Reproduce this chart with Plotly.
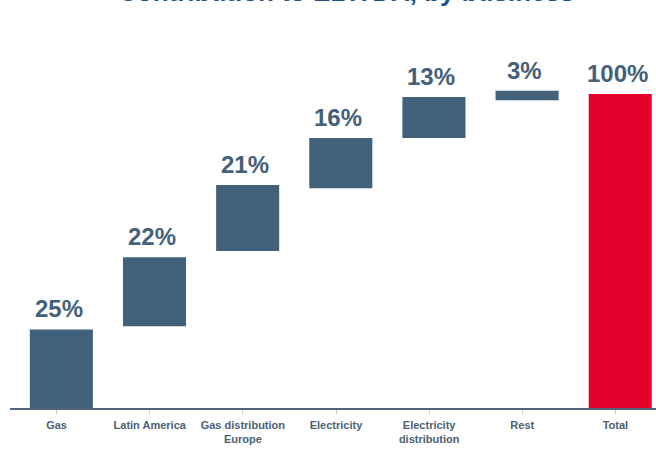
import plotly.graph_objects as go

categories = ["Gas", "Latin America", "Gas distribution<br>Europe", "Electricity",
              "Electricity<br>distribution<br>Europe", "Rest", "Total"]
values = [25, 22, 21, 16, 13, 3, 100]          # contribution (%)
bases = [0, 26, 50, 70, 86, 98, 0]             # bar start as drawn (%)
labels = [f"{v}%" for v in values]

SLATE = "#42617a"
RED = "#e4002b"
TEXT = "#44607a"
colors = [SLATE] * 6 + [RED]

x_idx = list(range(len(categories)))

fig = go.Figure()
fig.add_trace(go.Bar(
    x=x_idx, y=values, base=bases,
    marker=dict(color=colors, line=dict(width=0)),
    width=0.677, offset=-0.287,
    hoverinfo="skip",
))

for xi, b, v, t in zip(x_idx, bases, values, labels):
    fig.add_annotation(
        x=xi, y=b + v, text=t, showarrow=False,
        xanchor="center", yanchor="bottom", xshift=2, yshift=5,
        font=dict(family="Liberation Sans, Arial", size=24, color=TEXT, weight="bold"),
    )

fig.add_annotation(
    xref="paper", yref="paper", x=0.52, y=1, yshift=51, xanchor="center", yanchor="bottom",
    text="Contribution to EBITDA, by business", showarrow=False,
    font=dict(family="Liberation Sans, Arial", size=26, color="#1b5386", weight="bold"),
)

fig.update_layout(
    width=656, height=450,
    margin=dict(l=10, r=0, t=60, b=42, autoexpand=False),
    paper_bgcolor="white", plot_bgcolor="white",
    showlegend=False,
    xaxis=dict(
        tickmode="array", tickvals=x_idx, ticktext=categories,
        range=[-0.5, 6.4356], automargin=False,
        showline=True, linecolor="#4d6479", linewidth=1.5,
        ticks="outside", tickson="boundaries", ticklen=4, tickwidth=1, tickcolor="#c3ccd4",
        ticklabelstandoff=2,
        tickfont=dict(family="Liberation Sans, Arial", size=11, color="#4b6174", weight="bold"),
        showgrid=False, zeroline=False,
    ),
    yaxis=dict(range=[0, 110.8], visible=False, showgrid=False, zeroline=False, automargin=False),
)

fig.write_html("out.html")
